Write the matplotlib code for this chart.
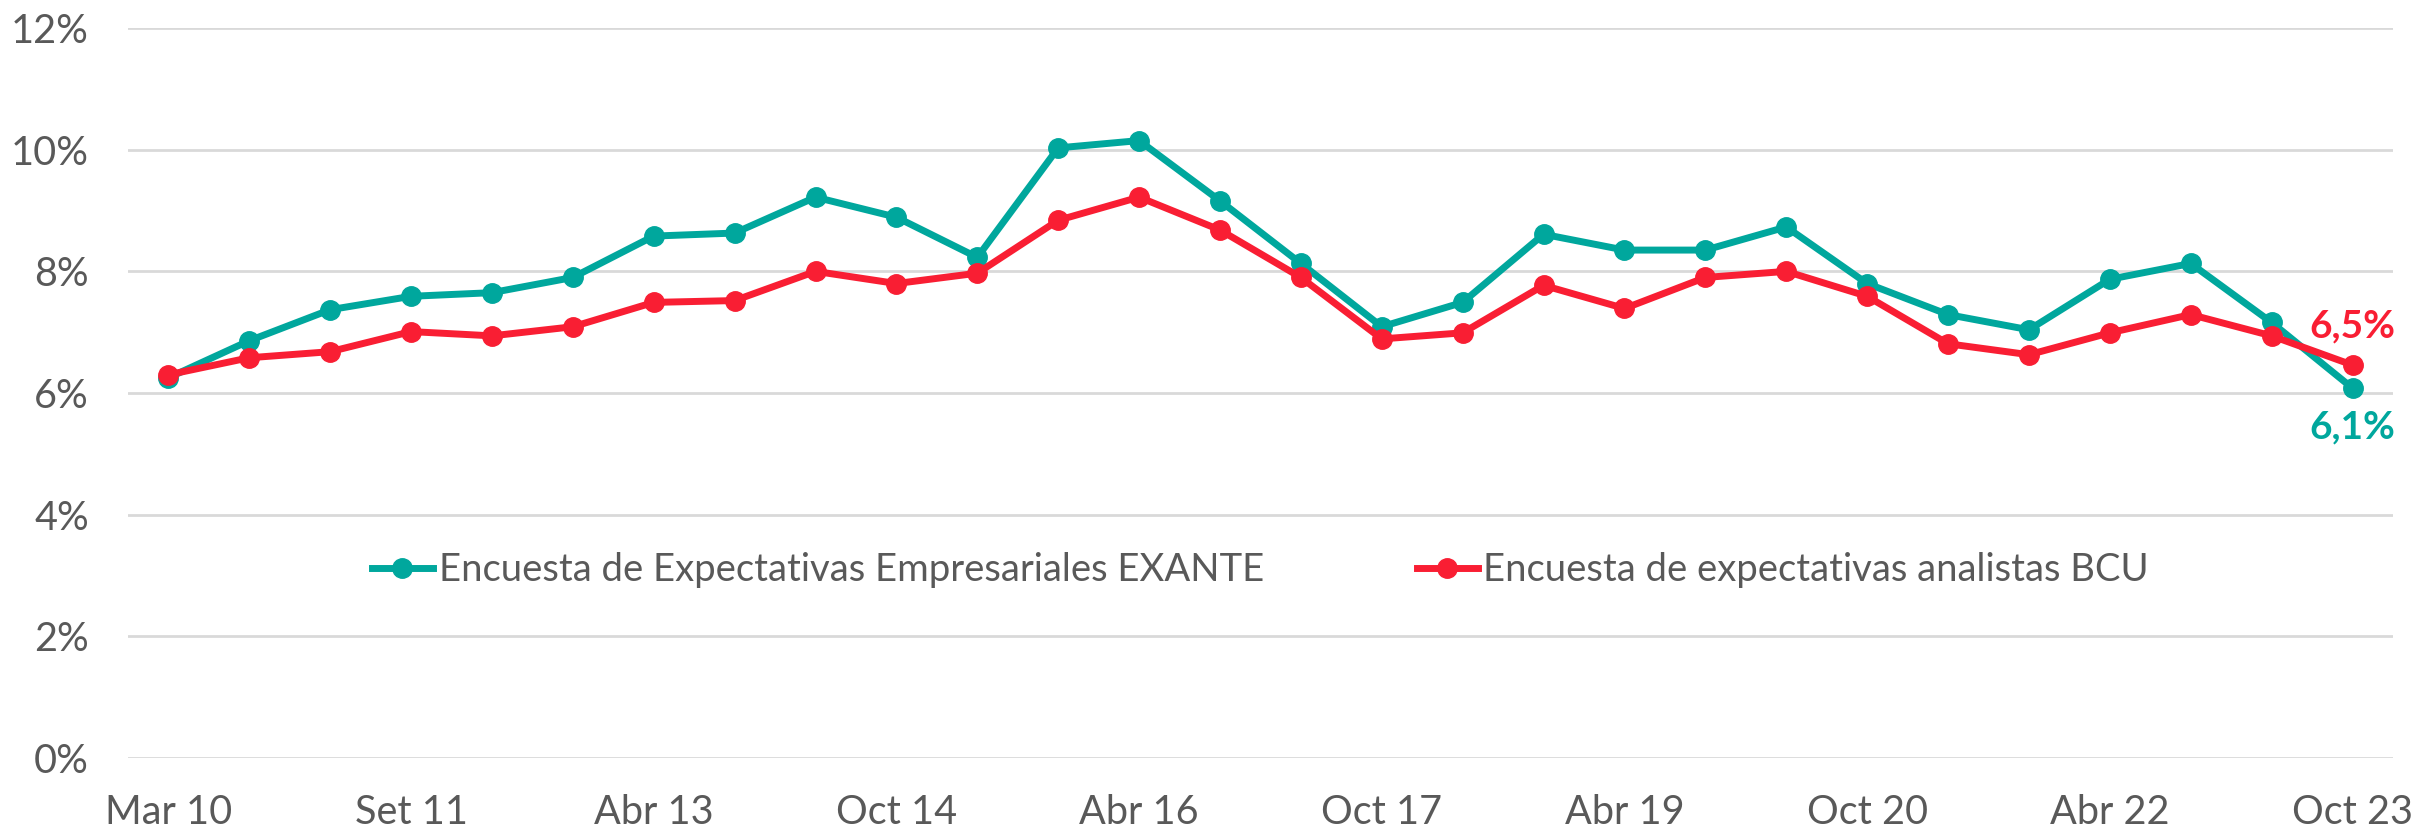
import matplotlib
matplotlib.use("Agg")
import matplotlib.pyplot as plt
from matplotlib.ticker import FuncFormatter, MultipleLocator

plt.rcParams['font.family'] = ['Lato', 'DejaVu Sans']

periods = ["Mar 10", "Oct 10", "Mar 11", "Set 11", "Mar 12", "Oct 12", "Abr 13", "Oct 13",
           "Abr 14", "Oct 14", "Abr 15", "Oct 15", "Abr 16", "Oct 16", "Abr 17", "Oct 17",
           "Abr 18", "Oct 18", "Abr 19", "Oct 19", "Abr 20", "Oct 20", "Abr 21", "Oct 21",
           "Abr 22", "Oct 22", "Abr 23", "Oct 23"]
tick_labels = ["Mar 10", "Set 11", "Abr 13", "Oct 14", "Abr 16", "Oct 17", "Abr 19",
               "Oct 20", "Abr 22", "Oct 23"]

exante = [6.25, 6.86, 7.37, 7.59, 7.65, 7.90, 8.58, 8.63, 9.22, 8.89, 8.23, 10.03, 10.15,
          9.16, 8.13, 7.09, 7.49, 8.61, 8.35, 8.35, 8.73, 7.80, 7.29, 7.04, 7.87, 8.13,
          7.16, 6.08]
bcu = [6.30, 6.58, 6.68, 7.01, 6.94, 7.09, 7.49, 7.52, 8.00, 7.80, 7.97, 8.84, 9.22, 8.68,
       7.90, 6.89, 6.99, 7.77, 7.39, 7.90, 8.00, 7.59, 6.81, 6.63, 6.99, 7.29, 6.94, 6.46]

name_exante = "Encuesta de Expectativas Empresariales EXANTE"
name_bcu = "Encuesta de expectativas analistas BCU"

teal = "#00A79D"
red = "#F91E33"
gray = "#595959"

fig = plt.figure(figsize=(24.13, 8.32), dpi=100)
ax = fig.add_axes([0.053, 0.0889, 0.9387, 0.8774])

x = list(range(len(periods)))
ax.plot(x, exante, color=teal, lw=5, marker='o', ms=14, label=name_exante, zorder=3)
ax.plot(x, bcu, color=red, lw=5, marker='o', ms=14, label=name_bcu, zorder=4)

ax.set_xlim(-0.5, len(periods) - 0.5)
ax.set_ylim(0, 12)
ax.yaxis.set_major_locator(MultipleLocator(2))
ax.yaxis.set_major_formatter(FuncFormatter(lambda v, p: f"{v:.0f}%"))
ax.set_xticks([periods.index(t) for t in tick_labels])
ax.set_xticklabels(tick_labels)
ax.grid(axis='y', color='#D9D9D9', lw=2)
ax.set_axisbelow(True)
for s in ax.spines.values():
    s.set_visible(False)
ax.tick_params(axis='both', length=0, labelsize=28.5, labelcolor=gray)
ax.tick_params(axis='y', pad=28)
ax.tick_params(axis='x', pad=26)

ax.annotate(f"{bcu[-1]:.1f}%".replace('.', ','), (x[-1], bcu[-1]), xytext=(0, 28),
            textcoords='offset points', ha='center', va='center', color=red,
            fontsize=28, fontweight='bold')
ax.annotate(f"{exante[-1]:.1f}%".replace('.', ','), (x[-1], exante[-1]), xytext=(0, -28),
            textcoords='offset points', ha='center', va='center', color=teal,
            fontsize=28, fontweight='bold')

leg = ax.legend(loc='center', bbox_to_anchor=(0.5, 0.2575), ncol=2, frameon=False,
                fontsize=27.5, labelcolor=gray, handlelength=1.6, handletextpad=0.15,
                columnspacing=4.0)

fig.savefig("out.png", dpi=100, facecolor='white')
